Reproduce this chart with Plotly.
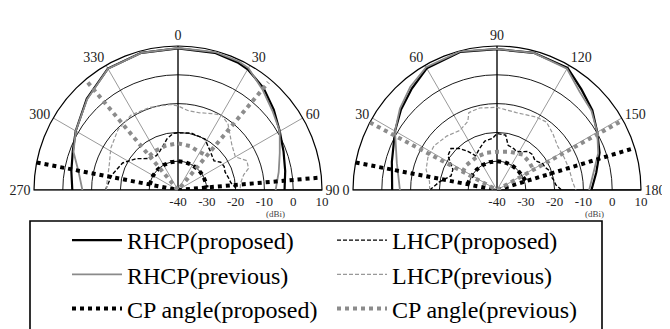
import plotly.graph_objects as go

# ---------------- figure / axis constants ----------------
W, H = 670, 329
PAGE_OFFSET = 8  # the html body margin shifts the figure by this many pixels
FONT = "Liberation Serif, DejaVu Serif, Times New Roman, serif"
R_MIN, R_MAX = -40, 10
RADIAL_TICKS = [-40, -30, -20, -10, 0, 10]
RADIAL_LABELS = ["-40", "-30", "-20", "-10", "0", "10"]
# left plot: 0 at top, 270..330 expressed as negative angles
L_ANGLE_TICKS = [-90, -60, -30, 0, 30, 60, 90]
L_ANGLE_LABELS = ["270", "300", "330", "0", "30", "60", "90"]
# right plot: 0 at left (angles shifted by one full turn)
R_ANGLE_TICKS = [-360, -330, -300, -270, -240, -210, -180]
R_ANGLE_LABELS = ["0", "30", "60", "90", "120", "150", "180"]
UNIT_LABEL = "(dBi)"

# ---------------- left pattern (0 deg at top) ----------------
L_RHCP_T = [-90, -80, -70, -60, -45, -30, -15, 0, 15, 25, 30, 40, 50, 60, 70, 80, 90]
L_RHCP_PROP = [-3.3, -2.4, -1.1, 1.0, 4.8, 8.7, 9.3, 9.2, 9.3, 8.9, 8.4, 6.2, 3.4, 0.8, -1.0, -2.2, -3.0]
L_RHCP_PREV = [-6.8, -5.0, -1.4, 1.0, 4.6, 8.6, 9.3, 9.3, 9.6, 9.4, 8.9, 5.6, 2.8, 0.8, -2.4, -4.5, -6.1]

L_LHCP_PROP_T = [-90, -77, -64, -53, -42, -32, -25, -18, -12, -5, 0, 5, 13, 20, 28, 34, 40, 46, 51, 57, 63, 69, 76, 82, 90]
L_LHCP_PROP = [-14.8, -16.5, -18.6, -21.9, -25.3, -25.9, -25.1, -23.6, -21.8, -20.3, -20.2, -20.1, -19.7,
               -20.0, -20.0, -21.5, -22.5, -23.4, -23.9, -22.3, -22.0, -22.5, -22.0, -21.5, -19.3]

L_LHCP_PREV_T = [-90, -71, -58, -45, -32, -19, -5, 0, 7, 15, 24, 30, 37, 44, 50, 60, 67, 73, 77, 84, 90]
L_LHCP_PREV = [-15.0, -14.7, -12.5, -10.5, -9.3, -9.7, -10.2, -10.8, -12.2, -12.2, -11.0, -9.9, -11.2,
               -13.9, -15.6, -17.0, -14.0, -14.4, -16.6, -18.2, -18.4]

# CP angle: two radial bound lines through the centre plus an arc (None = gap)
L_CP_PROP_T = [-79, 0, 85, None, -79, -60, -45, -30, -15, 0, 15, 30, 45, 60, 75, 85]
L_CP_PROP_R = [10, -40, 9.5, None, -30, -30, -30, -30, -30, -30, -30, -30, -30, -30, -30, -30]
L_CP_PREV_T = [-40, 0, 40, None, -40, -30, -15, 0, 15, 27, 40]
L_CP_PREV_R = [8.7, -40, 8.8, None, -24.5, -24.3, -24.0, -23.8, -24.2, -24.8, -24.5]

# ---------------- right pattern (0 deg at left) ----------------
R_RHCP_T = [0, 15, 30, 40, 50, 60, 75, 90, 105, 120, 130, 140, 150, 160, 170, 180]
R_RHCP_PROP = [-3.6, -2.2, 0.9, 3.5, 6.0, 8.8, 9.6, 8.9, 9.3, 9.0, 5.6, 3.2, 0.2, -2.1, -5.0, -7.2]
R_RHCP_PREV = [-6.3, -4.0, 0.9, 4.0, 6.8, 9.2, 9.8, 9.0, 9.3, 8.6, 4.6, 2.8, 0.2, -2.6, -6.0, -8.0]

R_LHCP_PROP_T = [0, 8, 17, 25, 35, 42, 48, 53, 58, 67, 76, 85, 90, 99, 104, 112, 117, 122, 129, 135,
                 142, 150, 155, 160, 165, 170, 175, 180]
R_LHCP_PROP = [-16.6, -19.8, -23.3, -23.1, -19.2, -18.5, -20.6, -23.2, -26.0, -24.4, -22.5, -22.0, -20.4,
               -20.7, -24.0, -24.5, -25.0, -24.3, -22.8, -22.6, -23.3, -21.7, -21.5, -20.5, -20.8, -20.0,
               -19.5, -17.6]

R_LHCP_PREV_T = [0, 7, 16, 25, 35, 47, 58, 67, 70, 78, 90, 104, 118, 126, 135, 144, 154, 164, 174, 180]
R_LHCP_PREV = [-16.6, -16.4, -14.4, -13.5, -13.3, -14.4, -15.6, -14.1, -11.4, -10.9, -11.3, -12.3, -11.3,
               -10.8, -12.5, -14.0, -14.1, -13.9, -13.6, -12.6]

R_CP_PROP_T = [11, 90, 163, None, 11, 30, 45, 60, 75, 90, 105, 120, 135, 150, 163]
R_CP_PROP_R = [10, -40, 9.0, None, -29.5, -30, -30, -30, -30, -30, -30, -30, -30, -30, -29.5]
R_CP_PREV_T = [28, 90, 151, None, 28, 39, 60, 75, 90, 108, 126, 139, 151]
R_CP_PREV_R = [10, -40, 9.5, None, -26.5, -26.3, -26.5, -26.6, -26.7, -26.0, -24.8, -25.2, -25.5]

NAMES = ["RHCP(proposed)", "LHCP(proposed)", "RHCP(previous)", "LHCP(previous)",
         "CP angle(proposed)", "CP angle(previous)"]

# ---------------- styles ----------------
STY = {
    "RHCP(proposed)": dict(color="black", width=2.2, dash="solid"),
    "RHCP(previous)": dict(color="#8a8a8a", width=1.8, dash="solid"),
    "LHCP(proposed)": dict(color="black", width=1.4, dash="4px,2px"),
    "LHCP(previous)": dict(color="#999999", width=1.2, dash="4px,2px"),
    "CP angle(proposed)": dict(color="black", width=4, dash="4px,4px"),
    "CP angle(previous)": dict(color="#8c8c8c", width=4, dash="4px,4px"),
}

# ---------------- geometry (page pixels -> figure pixels) ----------------
RAD = 144
CY = 190 - PAGE_OFFSET
CX_L, CX_R = 178 - PAGE_OFFSET, 497 - PAGE_OFFSET


def px_x(page_x):
    return (page_x - PAGE_OFFSET) / W


def px_y(page_y):
    return 1 - (page_y - PAGE_OFFSET) / H


def dom_x(cx):
    return [(cx - RAD) / W, (cx + RAD) / W]


DOM_Y = [1 - CY / H, 1 - (CY - RAD) / H]

fig = go.Figure()

left = {
    "RHCP(proposed)": (L_RHCP_T, L_RHCP_PROP),
    "LHCP(proposed)": (L_LHCP_PROP_T, L_LHCP_PROP),
    "RHCP(previous)": (L_RHCP_T, L_RHCP_PREV),
    "LHCP(previous)": (L_LHCP_PREV_T, L_LHCP_PREV),
    "CP angle(proposed)": (L_CP_PROP_T, L_CP_PROP_R),
    "CP angle(previous)": (L_CP_PREV_T, L_CP_PREV_R),
}
right = {
    "RHCP(proposed)": (R_RHCP_T, R_RHCP_PROP),
    "LHCP(proposed)": (R_LHCP_PROP_T, R_LHCP_PROP),
    "RHCP(previous)": (R_RHCP_T, R_RHCP_PREV),
    "LHCP(previous)": (R_LHCP_PREV_T, R_LHCP_PREV),
    "CP angle(proposed)": (R_CP_PROP_T, R_CP_PROP_R),
    "CP angle(previous)": (R_CP_PREV_T, R_CP_PREV_R),
}

# black base line and vertical axis line for each half-plot
for sub, (a0, amid, a1) in (("polar", (270, 0, 90)), ("polar2", (0, 90, 180))):
    fig.add_trace(go.Scatterpolar(
        r=[R_MAX, R_MIN, R_MAX, None, R_MIN, R_MAX],
        theta=[a0, amid, a1, None, amid, amid],
        mode="lines", line=dict(color="black", width=1.2),
        showlegend=False, hoverinfo="skip", subplot=sub))

for sub, data in (("polar", left), ("polar2", right)):
    for nm in NAMES:
        t, r = data[nm]
        fig.add_trace(go.Scatterpolar(
            r=r, theta=t, mode="lines", name=nm, line=STY[nm],
            showlegend=(sub == "polar"), legendrank=NAMES.index(nm) + 1,
            subplot=sub, connectgaps=False))


def polar_cfg(cx, rotation, tickvals, ticktext):
    return dict(
        domain=dict(x=dom_x(cx), y=DOM_Y),
        sector=[0, 180],
        bgcolor="white",
        angularaxis=dict(
            rotation=rotation, direction="clockwise", thetaunit="degrees",
            tickmode="array", tickvals=tickvals, ticktext=ticktext,
            showline=True, linecolor="black", linewidth=1.2,
            showgrid=True, gridcolor="#9a9a9a", gridwidth=1,
            ticks="outside", ticklen=0, tickwidth=1, tickcolor="black",
            tickfont=dict(family=FONT, size=14, color="#222"), layer="below traces"),
        radialaxis=dict(
            range=[R_MIN, R_MAX], tickmode="array", tickvals=RADIAL_TICKS, ticktext=RADIAL_LABELS,
            showline=True, linecolor="black", linewidth=1.2, angle=0, tickangle=0,
            showgrid=True, gridcolor="#1a1a1a", gridwidth=1,
            ticks="outside", ticklen=0, tickwidth=1, tickcolor="black",
            tickfont=dict(family=FONT, size=13, color="#222"), layer="below traces"),
    )


annotations = []
for cx in (CX_L, CX_R):
    annotations.append(dict(
        text=UNIT_LABEL, x=(cx + 97) / W, y=px_y(214), xref="paper", yref="paper",
        showarrow=False, font=dict(family=FONT, size=9, color="#444"),
        xanchor="center", yanchor="middle"))

fig.update_layout(
    width=W, height=H, autosize=False,
    margin=dict(l=0, r=0, t=0, b=0),
    paper_bgcolor="white", plot_bgcolor="white",
    polar=polar_cfg(CX_L, 90, L_ANGLE_TICKS, L_ANGLE_LABELS),
    polar2=polar_cfg(CX_R, 180, R_ANGLE_TICKS, R_ANGLE_LABELS),
    showlegend=True,
    legend=dict(
        orientation="h", x=px_x(67), y=px_y(218), xanchor="left", yanchor="top",
        bgcolor="rgba(0,0,0,0)", borderwidth=0, itemwidth=50,
        entrywidth=200, entrywidthmode="pixels", traceorder="normal",
        font=dict(family=FONT, size=24, color="black")),
    shapes=[dict(type="rect", xref="paper", yref="paper",
                 x0=px_x(30), x1=px_x(602), y0=px_y(221), y1=px_y(336),
                 line=dict(color="black", width=1.6), fillcolor="rgba(0,0,0,0)")],
    annotations=annotations,
)

fig.write_html("out.html")
